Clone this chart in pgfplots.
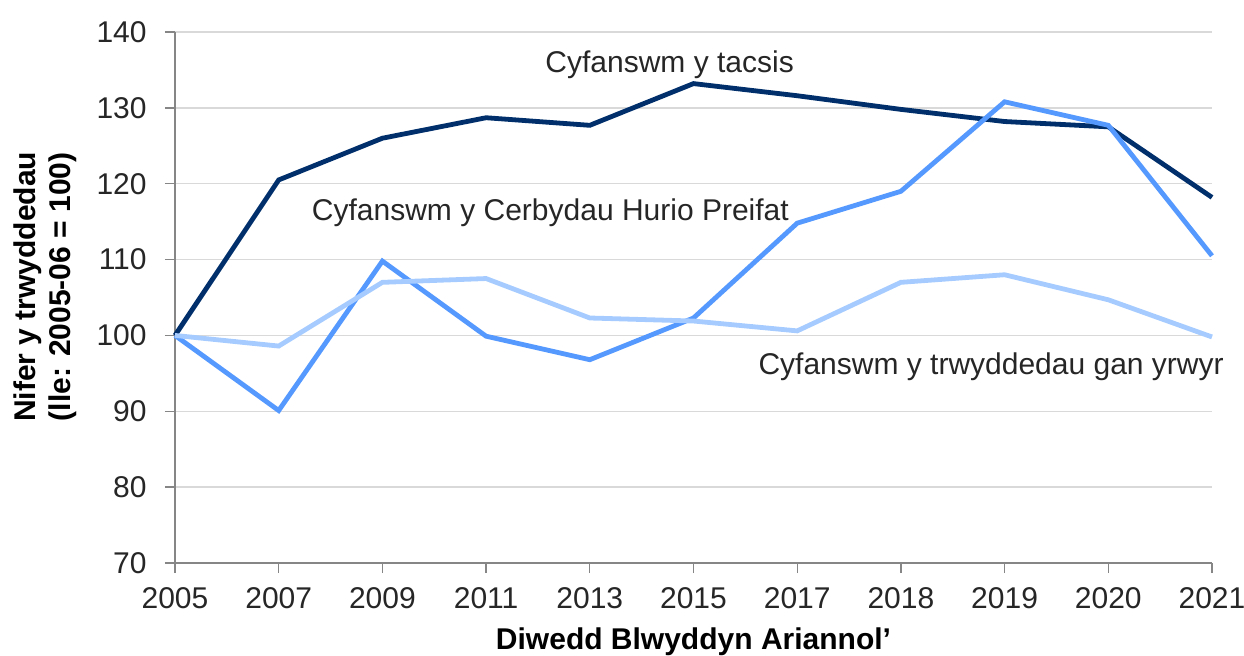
\documentclass[border=0pt]{standalone}
\usepackage{fontspec}
\setmainfont{Liberation Sans}
\usepackage{pgfplots}
\pgfplotsset{compat=1.18}
\definecolor{taxi}{HTML}{002F6C}
\definecolor{phv}{HTML}{5599FF}
\definecolor{drv}{HTML}{A6CCFF}
\definecolor{axisgray}{HTML}{868686}
\definecolor{gridgray}{HTML}{D9D9D9}
\definecolor{txt}{HTML}{262626}

\begin{document}
\begin{tikzpicture}
\useasboundingbox (-87.5pt,-46pt) rectangle (534.5pt,281.5pt);
\begin{axis}[
    at={(0,0)}, anchor=south west,
    scale only axis, width=518.5pt, height=265.5pt,
    xmin=0, xmax=10, ymin=70, ymax=140,
    xtick={0,...,10},
    xticklabels={2005,2007,2009,2011,2013,2015,2017,2018,2019,2020,2021},
    ytick={70,80,...,140},
    axis x line*=bottom, axis y line*=left,
    axis line style={axisgray, line width=0.7pt},
    ymajorgrids, grid style={gridgray, line width=0.7pt},
    tick align=outside, major tick length=5pt,
    tick style={axisgray, line width=0.7pt},
    font=\fontsize{15}{17.5}\selectfont,
    ticklabel style={txt, font=\fontsize{15}{17.5}\selectfont},
    /pgf/number format/assume math mode=true,
    yticklabel style={anchor=east, inner sep=0pt, xshift=-9pt},
    xticklabel style={anchor=base, inner sep=0pt, yshift=-17.5pt},
    xlabel={Diwedd Blwyddyn Ariannol’},
    xlabel style={at={(axis description cs:0.5,-0.1638)}, anchor=base, inner sep=0pt,
        font=\fontsize{15}{17.5}\selectfont\bfseries},
    ylabel={Nifer y trwyddedau\\(lle: 2005-06 = 100)},
    ylabel style={at={(axis description cs:-0.1254,0.52)}, anchor=center, align=center,
        font=\fontsize{15}{17.5}\selectfont\bfseries},
    clip=false,
]
% Cyfanswm y tacsis
\addplot[taxi, line width=2.4pt, mark=none] coordinates {
    (0,100) (1,120.5) (2,126.0) (3,128.7) (4,127.7) (5,133.2)
    (6,131.6) (7,129.8) (8,128.2) (9,127.5) (10,118.2) };
% Cyfanswm y Cerbydau Hurio Preifat
\addplot[phv, line width=2.4pt, mark=none] coordinates {
    (0,100) (1,90.1) (2,109.8) (3,99.9) (4,96.8) (5,102.3)
    (6,114.8) (7,119.0) (8,130.8) (9,127.7) (10,110.5) };
% Cyfanswm y trwyddedau gan yrwyr
\addplot[drv, line width=2.4pt, mark=none] coordinates {
    (0,100) (1,98.6) (2,107.0) (3,107.5) (4,102.3) (5,101.9)
    (6,100.6) (7,107.0) (8,108.0) (9,104.7) (10,99.8) };

\node[txt, anchor=base] at (axis cs:4.77,134.7) {Cyfanswm y tacsis};
\node[txt, anchor=base] at (axis cs:3.62,115.2) {Cyfanswm y Cerbydau Hurio Preifat};
\node[txt, anchor=base] at (axis cs:7.87,94.8) {Cyfanswm y trwyddedau gan yrwyr};
\end{axis}
\end{tikzpicture}
\end{document}
